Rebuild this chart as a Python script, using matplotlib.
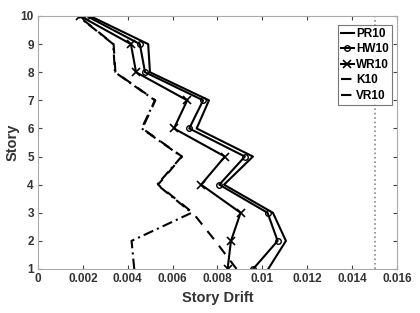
import matplotlib
matplotlib.use("Agg")
import matplotlib.pyplot as plt

plt.rcParams['font.family'] = ['Liberation Sans', 'DejaVu Sans']
plt.rcParams['font.weight'] = 'bold'

# dados
story = [1, 2, 3, 4, 5, 6, 7, 8, 9, 10]
pr10 = [0.01026, 0.01105, 0.01047, 0.00829, 0.00958, 0.00707, 0.00762, 0.00499, 0.00491, 0.00232]
hw10 = [0.00959, 0.01068, 0.01023, 0.00808, 0.00922, 0.00674, 0.00736, 0.00477, 0.00454, 0.00217]
wr10 = [0.00845, 0.00860, 0.00903, 0.00727, 0.00833, 0.00606, 0.00665, 0.00437, 0.00414, 0.00188]
k10 = [0.00885, 0.00790, 0.00690, 0.00535, 0.00642, 0.00465, 0.00523, 0.00345, 0.00337, 0.00180]
vr10 = [0.00429, 0.00417, 0.00685, 0.00531, 0.00640, 0.00462, 0.00521, 0.00343, 0.00335, 0.00178]
limite = 0.015

fig = plt.figure(figsize=(4.2, 3.13), dpi=100)
ax = fig.add_axes([0.0905, 0.1406, 0.8547, 0.8083])

ax.plot(pr10, story, color='k', lw=1.5, label='PR10')
ax.plot(hw10, story, color='k', lw=1.5, marker='o', ms=4, mfc='none', mew=1, label='HW10')
ax.plot(wr10, story, color='k', lw=1.5, marker='x', ms=6, mew=1.2, label='WR10')
ax.plot(k10, story, color='k', lw=1.5, ls=(0, (5, 4)), label='K10')
ax.plot(vr10, story, color='k', lw=1.5, ls=(0, (5, 2, 1, 2)), label='VR10')
ax.axvline(limite, color='#888888', lw=1.2, ls=':')

ax.set_xlim(0, 0.016)
ax.set_ylim(1, 10)
ax.set_xticks([0, 0.002, 0.004, 0.006, 0.008, 0.01, 0.012, 0.014, 0.016])
ax.set_xticklabels(['0', '0.002', '0.004', '0.006', '0.008', '0.01', '0.012', '0.014', '0.016'])
ax.set_yticks(range(1, 11))
ax.tick_params(direction='in', length=3, labelsize=8.5, colors='#444444', labelcolor='#333333',
               top=True, right=True, pad=3)
for s in ax.spines.values():
    s.set_color('#aaaaaa')
    s.set_linewidth(0.8)

ax.set_xlabel('Story Drift', fontsize=10.5, fontweight='bold', color='#333333', labelpad=4)
ax.set_ylabel('Story', fontsize=10.5, fontweight='bold', color='#333333', labelpad=1)

leg = ax.legend(loc='upper right', bbox_to_anchor=(0.986, 0.965), frameon=True, fancybox=False,
                handlelength=1.1, handletextpad=0.2, borderpad=0.25, labelspacing=0.3,
                borderaxespad=0, prop={'weight': 'bold', 'size': 8.5})
leg.get_frame().set_edgecolor('#555555')
leg.get_frame().set_linewidth(0.8)

fig.savefig('out.png', dpi=100)
